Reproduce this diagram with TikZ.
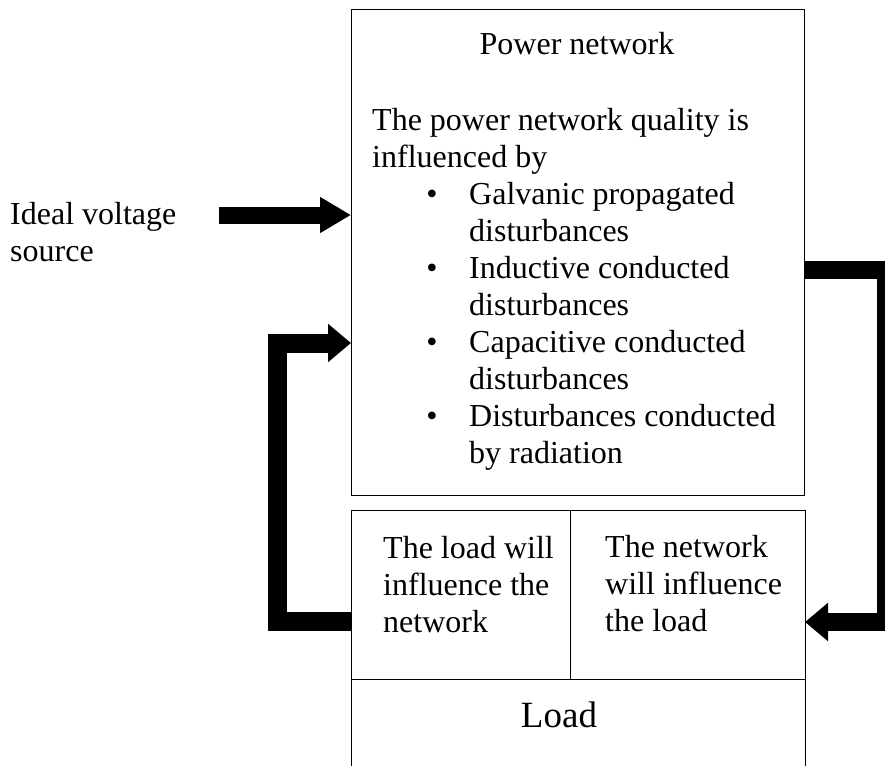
\documentclass[tikz,border=0pt]{standalone}
\usepackage{fontspec}
\setmainfont{Liberation Serif}
\usetikzlibrary{arrows.meta}
\begin{document}
\begin{tikzpicture}[x=1pt,y=-1pt,
  txt/.style={inner sep=0pt, anchor=base west, font=\fontsize{32}{37}\selectfont},
  bul/.style={inner sep=0pt, anchor=base, font=\fontsize{32}{37}\selectfont},
  boxx/.style={draw, line width=1.3pt, inner sep=0pt, anchor=north west},
  fatline/.style={line width=18pt, line join=miter},
  headA/.style={-{Triangle[length=31pt,width=34pt]}},
  headB/.style={-{Triangle[length=23pt,width=37pt]}}]
\useasboundingbox (0,0) rectangle (885,765);
\clip (0,0) rectangle (885,765);
\fill[white] (0,0) rectangle (885,765);
% boxes
\node[boxx, minimum width=453pt, minimum height=486pt] (pn) at (351,9) {};
\node[boxx, minimum width=219pt, minimum height=169pt] (cl) at (351,510) {};
\node[boxx, minimum width=235pt, minimum height=169pt] (cr) at (570,510) {};
\node[boxx, minimum width=454pt, minimum height=100pt] (ld) at (351,679) {};
% power network text
\node[inner sep=0pt, anchor=base, font=\fontsize{32}{37}\selectfont] (title) at (577,55) {Power network};
\node[txt] (l1) at (372,130) {The power network quality is};
\node[txt] (l2) at (372,167) {influenced by};
\node[bul] (b1) at (432,204) {•};
\node[txt] (l3) at (469,204) {Galvanic propagated};
\node[txt] (l4) at (469,241) {disturbances};
\node[bul] (b2) at (432,278) {•};
\node[txt] (l5) at (469,278) {Inductive conducted};
\node[txt] (l6) at (469,315) {disturbances};
\node[bul] (b3) at (432,352) {•};
\node[txt] (l7) at (469,352) {Capacitive conducted};
\node[txt] (l8) at (469,389) {disturbances};
\node[bul] (b4) at (432,426) {•};
\node[txt] (l9) at (469,426) {Disturbances conducted};
\node[txt] (l10) at (469,463) {by radiation};
% load cells text
\node[txt] (c1) at (383,558) {The load will};
\node[txt] (c2) at (383,595) {influence the};
\node[txt] (c3) at (383,632) {network};
\node[txt] (d1) at (605,557) {The network};
\node[txt] (d2) at (605,594) {will influence};
\node[txt] (d3) at (605,631) {the load};
\node[inner sep=0pt, anchor=base, font=\fontsize{37}{42}\selectfont] (loadt) at (559,727) {Load};
% ideal source
\node[txt] (s1) at (10,224) {Ideal voltage};
\node[txt] (s2) at (10,261) {source};
% arrows
\coordinate (a0) at (219,215);
\draw[fatline, line width=17pt, headA] (a0) -- (pn.west |- a0);
\coordinate (lb) at (351,621);
\coordinate (lt) at (351,343);
\draw[fatline, line width=19pt, headB] (lb) -- (277,621) -- (277,343) -- (lt);
\coordinate (rt) at (805,270);
\coordinate (rb) at (805,622);
\draw[fatline, headB] (rt) -- (886,270) -- (886,622) -- (rb);
\end{tikzpicture}
\end{document}
